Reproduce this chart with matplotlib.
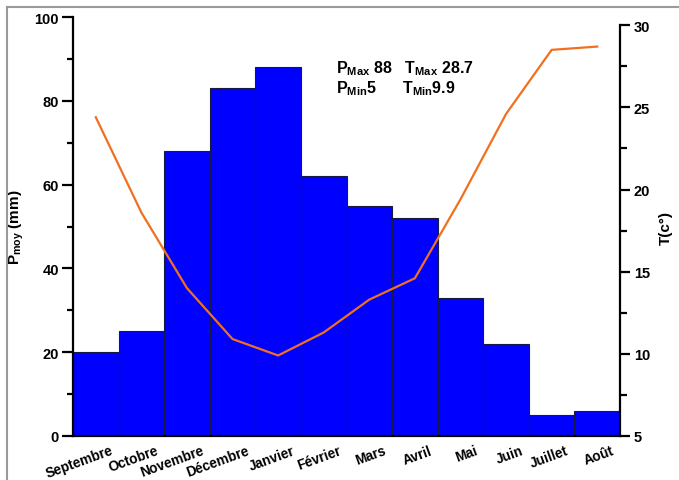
import matplotlib
matplotlib.use("Agg")
import matplotlib.pyplot as plt
from matplotlib.lines import Line2D
from matplotlib.ticker import MultipleLocator
from matplotlib.transforms import ScaledTranslation
import numpy as np

plt.rcParams['font.family'] = ['Liberation Sans', 'DejaVu Sans']
plt.rcParams['mathtext.fontset'] = 'custom'
plt.rcParams['mathtext.rm'] = 'Liberation Sans:bold'
plt.rcParams['mathtext.it'] = 'Liberation Sans:bold'
plt.rcParams['mathtext.bf'] = 'Liberation Sans:bold'

months = ["Septembre", "Octobre", "Novembre", "Décembre", "Janvier", "Février",
          "Mars", "Avril", "Mai", "Juin", "Juillet", "Août"]
precip = [20, 25, 68, 83, 88, 62, 55, 52, 33, 22, 5, 6]
temp = [24.4, 18.6, 14.0, 10.9, 9.9, 11.3, 13.3, 14.6, 19.4, 24.6, 28.5, 28.7]

W, H = 679, 481
fig = plt.figure(figsize=(W / 100, H / 100), dpi=100)

# grey frame (left and top edges)
fig.add_artist(Line2D([7 / W, 7 / W], [0, 1 - 8 / H], transform=fig.transFigure,
                      color="#9a9a9a", lw=1.5))
fig.add_artist(Line2D([7 / W, 1], [1 - 8 / H, 1 - 8 / H], transform=fig.transFigure,
                      color="#9a9a9a", lw=1.5))

left, right, top, bottom = 73 / W, 620 / W, 1 - 18 / H, 1 - 437 / H
ax = fig.add_axes([left, bottom, right - left, top - bottom])
x = np.arange(len(months))
ax.bar(x, precip, width=1.0, color="#0000ff", edgecolor="#1a1a40", linewidth=0.8, zorder=2)
ax.set_xlim(-0.5, len(months) - 0.5)
ax.set_ylim(0, 100)
ax.spines['top'].set_visible(False)
ax.spines['right'].set_visible(False)
for s in ('left', 'bottom'):
    ax.spines[s].set_linewidth(1.6)
ax.yaxis.set_major_locator(MultipleLocator(20))
ax.yaxis.set_minor_locator(MultipleLocator(10))
ax.tick_params(axis='y', which='major', length=8, width=1.6, labelsize=10.5, pad=2)
ax.tick_params(axis='y', which='minor', length=4.5, width=1.6)
ax.tick_params(axis='x', length=0, pad=5)
ax.set_xticks(x)
ax.set_xticklabels(months, rotation=20, ha='right', va='top', rotation_mode='anchor',
                   fontsize=9.8, fontweight='bold')
shift = ScaledTranslation(14 / 100, 0, fig.dpi_scale_trans)
for lbl in ax.get_xticklabels():
    lbl.set_transform(lbl.get_transform() + shift)
for lbl in ax.get_yticklabels():
    lbl.set_fontweight('bold')
ax.set_ylabel(r"$\mathregular{P_{moy}}$ (mm)", fontsize=11, fontweight='bold', labelpad=6)

ax2 = ax.twinx()
ax2.plot(x, temp, color="#f07020", lw=1.6, zorder=3)
ax2.set_ylim(5, 30.5)
ax2.spines['right'].set_bounds(5, 30)
ax2.spines['right'].set_linewidth(1.6)
for s in ('top', 'left', 'bottom'):
    ax2.spines[s].set_visible(False)
ax2.yaxis.set_major_locator(MultipleLocator(5))
ax2.yaxis.set_minor_locator(MultipleLocator(2.5))
ax2.tick_params(axis='y', which='major', length=7, width=1.6, labelsize=10.5, pad=3)
ax2.tick_params(axis='y', which='minor', length=5, width=1.6)
for lbl in ax2.get_yticklabels():
    lbl.set_fontweight('bold')
ax2.set_ylabel("T(c°)", fontsize=11, fontweight='bold', labelpad=6)

ax2.text(0.481, 0.879, r"$\mathregular{P_{Max}}$ " + f"{max(precip)}" + r"   $\mathregular{T_{Max}}$ " + f"{max(temp)}",
         transform=ax.transAxes, fontsize=11.5, fontweight='bold', va='center', ha='left')
ax2.text(0.481, 0.832, r"$\mathregular{P_{Min}}$" + f"{min(precip)}" + r"      $\mathregular{T_{Min}}$" + f"{min(temp)}",
         transform=ax.transAxes, fontsize=11.5, fontweight='bold', va='center', ha='left')

fig.savefig("out.png", dpi=100)
